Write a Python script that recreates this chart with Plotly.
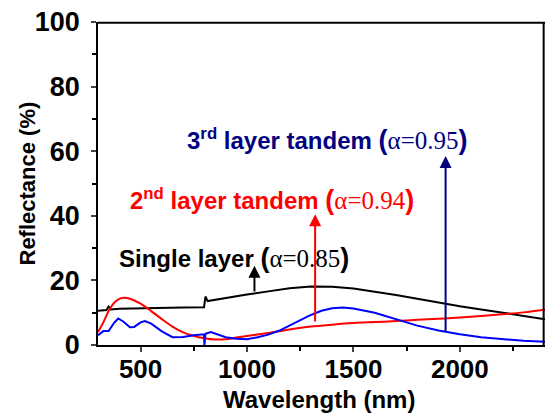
import plotly.graph_objects as go

# Single layer (black)
wl_single = [300, 340, 350, 360, 400, 500, 600, 700, 798, 800, 805, 815, 850, 900, 1000, 1100, 1200,
             1300, 1400, 1500, 1600, 1700, 1800, 1900, 2000, 2100, 2200, 2300, 2400]
r_single = [10.6, 10.8, 11.9, 11.0, 11.2, 11.4, 11.6, 11.6, 11.7, 13.5, 15.0, 13.6, 14.0, 14.6, 15.6, 16.6, 17.6,
            18.1, 18.0, 17.5, 16.6, 15.5, 14.3, 13.1, 12.0, 11.0, 9.9, 9.0, 8.0]

# 2nd layer tandem (red)
wl_second = [300, 325, 350, 375, 400, 425, 450, 500, 550, 600, 650, 700, 750, 800, 850, 900, 950, 1000,
             1100, 1200, 1300, 1400, 1500, 1600, 1700, 1800, 1900, 2000, 2100, 2200, 2300, 2400]
r_second = [4.0, 7.0, 10.5, 13.0, 14.3, 14.6, 14.3, 12.8, 10.5, 8.0, 5.7, 3.9, 2.8, 2.1, 1.7, 1.8, 2.3, 2.8,
            3.7, 4.8, 5.7, 6.3, 6.8, 7.1, 7.4, 7.8, 8.1, 8.5, 9.0, 9.5, 10.1, 10.9]

# 3rd layer tandem (blue)
wl_third = [300, 325, 350, 375, 395, 420, 450, 470, 500, 520, 550, 600, 650, 700, 750, 798, 800, 805, 830,
            850, 900, 950, 1000, 1050, 1100, 1150, 1200, 1250, 1300, 1350, 1400, 1450, 1500, 1600, 1700,
            1800, 1900, 2000, 2100, 2200, 2300, 2400]
r_third = [3.0, 4.3, 4.3, 6.8, 8.2, 7.2, 5.5, 5.6, 7.0, 7.4, 6.6, 4.2, 2.4, 2.5, 3.0, 3.3, 0.0, 3.5, 4.0,
           3.6, 2.4, 1.9, 1.8, 2.4, 3.2, 4.4, 6.0, 7.7, 9.3, 10.6, 11.4, 11.6, 11.3, 10.0, 7.9,
           6.0, 4.5, 3.3, 2.4, 1.8, 1.3, 1.0]

# annotation arrows: (x, y_start, y_end)
arrow_single = (1035, 16.1, 24.5)
arrow_second = (1320, 6.8, 40.5)
arrow_third = (1933, 3.7, 58.5)

x_ticks = [500, 1000, 1500, 2000]
y_ticks = [0, 20, 40, 60, 80, 100]

L, R, T, B = 98, 2, 22, 69
W, H = 547, 414
pw = W - L - R
ph = H - T - B

fig = go.Figure()
fig.add_trace(go.Scatter(x=wl_single, y=r_single, mode="lines", line=dict(color="black", width=2), showlegend=False))
fig.add_trace(go.Scatter(x=wl_second, y=r_second, mode="lines", line=dict(color="#ff0000", width=2, shape="spline"), showlegend=False))
fig.add_trace(go.Scatter(x=wl_third, y=r_third, mode="lines", line=dict(color="#0000ff", width=2), showlegend=False))

for (ax_, y0, y1), col in [(arrow_single, "black"), (arrow_second, "#ff0000"), (arrow_third, "#000080")]:
    fig.add_annotation(x=ax_, y=y1, ax=ax_, ay=y0, xref="x", yref="y", axref="x", ayref="y",
                       text="", showarrow=True, arrowhead=2, arrowsize=1.2, arrowwidth=2, arrowcolor=col)

serif = "font-family:'Liberation Serif';font-weight:normal;font-size:25px"
par = "font-size:27px"
def label(prefix, sup, rest, val):
    s = prefix
    if sup:
        s += "<sup>" + sup + "</sup>"
    s += rest + " <span style=\"" + par + "\">(</span><span style=\"" + serif + "\">α=" + val + "</span><span style=\"" + par + "\">)</span>"
    return s

for px, yv, txt, col in [
    (185, 63.5, label("3", "rd", " layer tandem", "0.95"), "#000080"),
    (128, 45, label("2", "nd", " layer tandem", "0.94"), "#ff0000"),
    (117, 27, label("Single layer", "", "", "0.85"), "black"),
]:
    fig.add_annotation(x=(px - L) / pw, y=yv, xref="paper", yref="y", xanchor="left", yanchor="middle",
                       showarrow=False, text=txt,
                       font=dict(family="Liberation Sans", size=24, color=col, weight="bold"))

# axis titles placed as text
fig.add_annotation(x=(27 - L) / pw, y=0.5, xref="paper", yref="paper", xanchor="center", yanchor="middle",
                   showarrow=False, textangle=-90, text="Reflectance (%)",
                   font=dict(family="Liberation Sans", size=22, color="black", weight="bold"))
fig.add_annotation(x=(319 - L) / pw, y=-(399 - T - ph) / ph, xref="paper", yref="paper",
                   xanchor="center", yanchor="middle", showarrow=False, text="Wavelength (nm)",
                   font=dict(family="Liberation Sans", size=24, color="black", weight="bold"))

# plot frame: top and right borders
fig.add_shape(type="line", xref="paper", yref="paper", x0=0, y0=0.998, x1=1, y1=0.998,
              line=dict(color="black", width=2), layer="above")
fig.add_shape(type="line", xref="paper", yref="paper", x0=0.997, y0=0, x1=0.997, y1=1,
              line=dict(color="black", width=2), layer="above")

fig.update_layout(
    width=W, height=H,
    margin=dict(l=L, r=R, t=T, b=B, autoexpand=False),
    plot_bgcolor="white", paper_bgcolor="white",
    font=dict(family="Liberation Sans", color="black"),
)
fig.update_xaxes(range=[300, 2400], tickvals=x_ticks, ticks="outside", ticklen=5, tickwidth=1.5, automargin=False,
                 showline=True, linecolor="black", linewidth=1.5, mirror=False, showgrid=False, zeroline=False,
                 minor=dict(dtick=250, tick0=0, ticks="outside", ticklen=4, tickcolor="black"),
                 tickfont=dict(size=26, weight="bold"), ticklabelstandoff=-5, ticklabeloverflow="allow")
fig.update_yaxes(range=[0, 100], tickvals=y_ticks, ticks="outside", ticklen=5, tickwidth=1.5, automargin=False,
                 showline=True, linecolor="black", linewidth=1.5, mirror=False, showgrid=False, zeroline=False,
                 minor=dict(dtick=10, tick0=0, ticks="outside", ticklen=4, tickcolor="black"),
                 tickfont=dict(size=27, weight="bold"), ticklabelstandoff=6, ticklabeloverflow="allow")

fig.write_html("out.html", config={"displayModeBar": False},
               post_script="document.body.style.margin='0';")
